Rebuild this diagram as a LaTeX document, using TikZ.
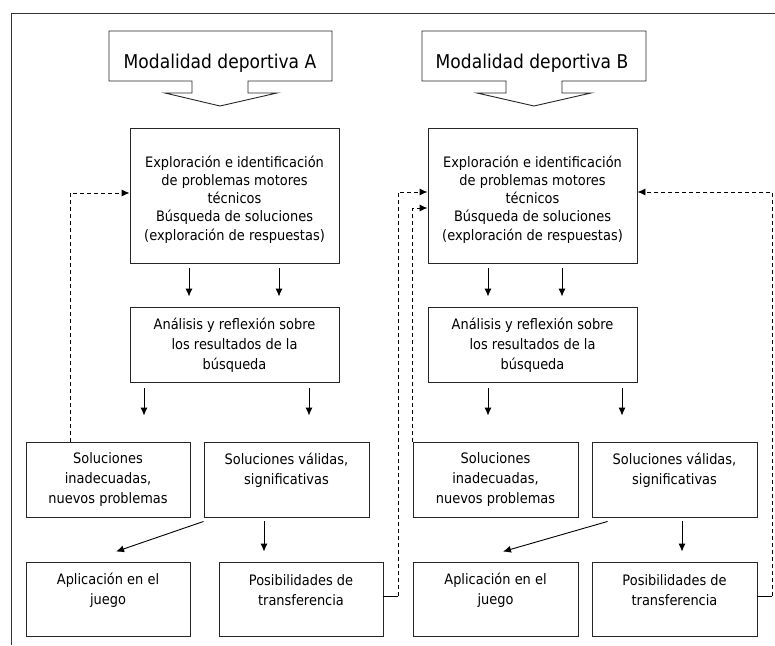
\documentclass[tikz,border=0pt]{standalone}
\usepackage{fontspec}
\setmainfont{DejaVu Sans}[FakeStretch=0.9]
\usetikzlibrary{arrows.meta,calc}
\begin{document}
\begin{tikzpicture}[x=1pt,y=-1pt,line width=0.9pt,
  rbox/.style={draw=black!85,rectangle,inner sep=0pt},
  txt/.style={align=center,inner sep=0pt,font=\fontsize{14.4}{20}\selectfont},
  txttop/.style={align=center,inner sep=0pt,font=\fontsize{14.4}{18.2}\selectfont},
  hdr/.style={inner sep=0pt,font=\fontsize{19}{22}\selectfont},
  arr/.style={draw=black,-{Latex[length=8pt,width=7pt]}},
  dsh/.style={draw=black,dash pattern=on 4pt off 3pt},
  dsharr/.style={dsh,-{Latex[length=8pt,width=7pt]}}]
\useasboundingbox (0,0) rectangle (775,645);
% outer frame
\draw[black!80] (11,645) -- (11,13) -- (775,13);
% header callouts
\draw[black!85] (109,31) -- (332,31) -- (332,81) -- (248,81) -- (248,93) -- (277,93) -- (220,106) -- (165,93) -- (192,93) -- (192,81) -- (109,81) -- cycle;
\node[hdr] (hA) at (220,63) {Modalidad deportiva A};
\draw[black!85] (422,31) -- (646,31) -- (646,81) -- (562,81) -- (562,93) -- (591,93) -- (534,106) -- (477,93) -- (506,93) -- (506,81) -- (422,81) -- cycle;
\node[hdr] (hB) at (532,63) {Modalidad deportiva B};
% ---------- column A ----------
\node[rbox,minimum width=209pt,minimum height=135pt] (exA) at (234.5,195.5) {};
\node[txttop] (exAt) at (234.5,199.5) {Exploración e identificación\\de problemas motores\\técnicos\\Búsqueda de soluciones\\(exploración de respuestas)};
\node[rbox,minimum width=209pt,minimum height=75pt] (anA) at (234.5,344.5) {};
\node[txt] (anAt) at (234.5,345.5) {Análisis y reflexión sobre\\los resultados de la\\búsqueda};
\node[rbox,minimum width=164pt,minimum height=75pt] (inA) at (108,479.5) {};
\node[txt] (inAt) at (108,480) {Soluciones\\inadecuadas,\\nuevos problemas};
\node[rbox,minimum width=165pt,minimum height=75pt] (vaA) at (286.5,479.5) {};
\node[txt] (vaAt) at (286.5,470) {Soluciones válidas,\\significativas};
\node[rbox,minimum width=164pt,minimum height=74pt] (apA) at (108,599) {};
\node[txt] (apAt) at (108,590) {Aplicación en el\\juego};
\node[rbox,minimum width=164pt,minimum height=74pt] (poA) at (301,599) {};
\node[txt] (poAt) at (301,590) {Posibilidades de\\transferencia};
% ---------- column B ----------
\node[rbox,minimum width=209pt,minimum height=135pt] (exB) at (532.5,195.5) {};
\node[txttop] (exBt) at (532.5,199.5) {Exploración e identificación\\de problemas motores\\técnicos\\Búsqueda de soluciones\\(exploración de respuestas)};
\node[rbox,minimum width=209pt,minimum height=75pt] (anB) at (532.5,344.5) {};
\node[txt] (anBt) at (532.5,345.5) {Análisis y reflexión sobre\\los resultados de la\\búsqueda};
\node[rbox,minimum width=165pt,minimum height=75pt] (inB) at (495.5,479.5) {};
\node[txt] (inBt) at (495.5,480) {Soluciones\\inadecuadas,\\nuevos problemas};
\node[rbox,minimum width=165pt,minimum height=75pt] (vaB) at (674.5,479.5) {};
\node[txt] (vaBt) at (674.5,470) {Soluciones válidas,\\significativas};
\node[rbox,minimum width=165pt,minimum height=74pt] (apB) at (495.5,599) {};
\node[txt] (apBt) at (495.5,590) {Aplicación en el\\juego};
\node[rbox,minimum width=165pt,minimum height=74pt] (poB) at (674.5,599) {};
\node[txt] (poBt) at (674.5,590) {Posibilidades de\\transferencia};
% ---------- arrows A ----------
\draw[arr] ([xshift=-45.5pt,yshift=-5pt]exA.south) -- ([xshift=-45.5pt,yshift=10pt]anA.north);
\draw[arr] ([xshift=44.5pt,yshift=-5pt]exA.south) -- ([xshift=44.5pt,yshift=10pt]anA.north);
\draw[arr] ([xshift=-90.5pt,yshift=-6pt]anA.south) -- ([xshift=36pt,yshift=26pt]inA.north);
\draw[arr] ([xshift=74.5pt,yshift=-6pt]anA.south) -- ([xshift=22.5pt,yshift=26pt]vaA.north);
\draw[arr] ([yshift=-4pt]vaA.south west) -- ([xshift=8pt,yshift=10pt]apA.north);
\draw[arr] ([xshift=-22.5pt,yshift=-4pt]vaA.south) -- ([xshift=-37pt,yshift=10pt]poA.north);
% ---------- arrows B ----------
\draw[arr] ([xshift=-44.5pt,yshift=-5pt]exB.south) -- ([xshift=-44.5pt,yshift=10pt]anB.north);
\draw[arr] ([xshift=29.5pt,yshift=-5pt]exB.south) -- ([xshift=29.5pt,yshift=10pt]anB.north);
\draw[arr] ([xshift=-44.5pt,yshift=-6pt]anB.south) -- ([xshift=-7.5pt,yshift=26pt]inB.north);
\draw[arr] ([xshift=89.5pt,yshift=-6pt]anB.south) -- ([xshift=-52.5pt,yshift=26pt]vaB.north);
\draw[arr] ([xshift=16pt,yshift=-4pt]vaB.south west) -- ([xshift=7.5pt,yshift=10pt]apB.north);
\draw[arr] ([xshift=7.5pt,yshift=-4pt]vaB.south) -- ([xshift=7.5pt,yshift=10pt]poB.north);
% ---------- feedback loops ----------
\coordinate (la) at ([xshift=-38pt]inA.north);
\draw[dsharr] (la) |- ([yshift=2.5pt]exA.west);
\coordinate (lb) at ([xshift=15pt,yshift=3pt]poA.east);
\draw[black] ([yshift=3pt]poA.east) -- (lb);
\draw[dsharr] (lb) |- ([yshift=3.5pt]exB.west);
\draw[dsharr] (inB.north west) |- ([yshift=-12.5pt]exB.west);
\coordinate (lc) at ([xshift=15pt,yshift=3pt]poB.east);
\draw[black] ([yshift=3pt]poB.east) -- (lc);
\draw[dsharr] (lc) |- ([yshift=3.5pt]exB.east);
\end{tikzpicture}
\end{document}
